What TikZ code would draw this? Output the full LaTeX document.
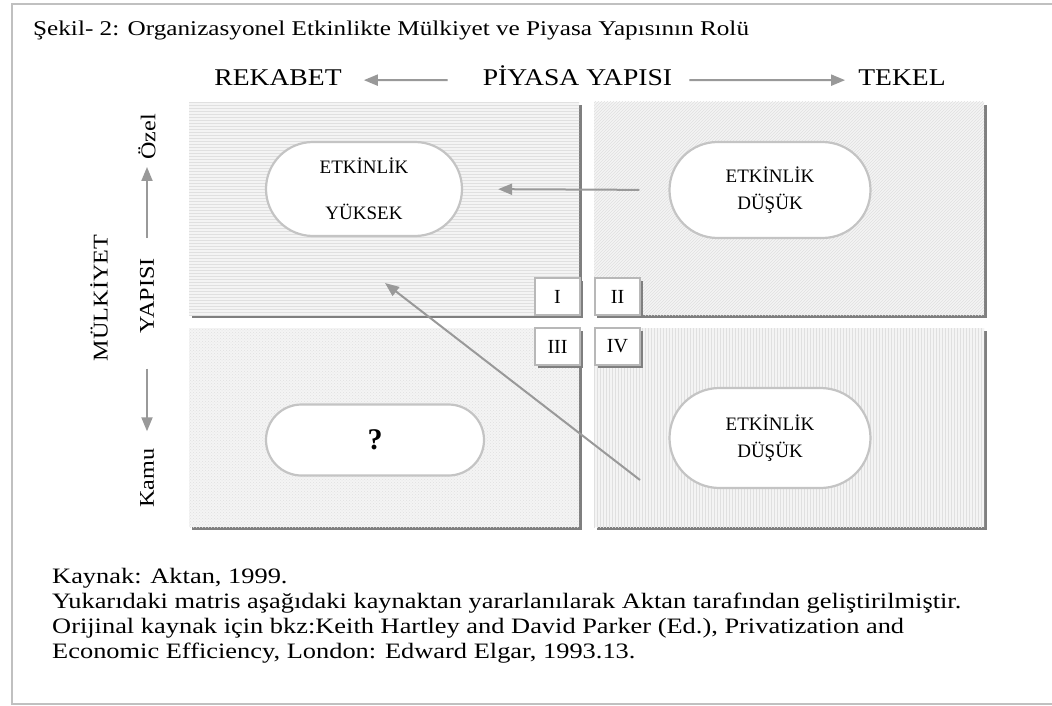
\documentclass[tikz,border=0pt]{standalone}
\usepackage{fontspec}
\setmainfont{Liberation Serif}
\newfontfamily\topfont[FakeStretch=1.15]{Liberation Serif}
\newfontfamily\titlefont[FakeStretch=1.2]{Liberation Serif}
\usetikzlibrary{arrows.meta,patterns,shadows}
\definecolor{arr}{HTML}{999999}
\definecolor{stadline}{HTML}{C4C4C4}
\definecolor{shad}{HTML}{7F7F7F}
\definecolor{boxline}{HTML}{B8B8B8}
\definecolor{frame}{HTML}{C0C0C0}
\begin{document}
\begin{tikzpicture}[x=1pt,y=-1pt,
  quad/.style={minimum width=390pt, inner sep=0pt, draw=none,
    drop shadow={shadow xshift=3pt, shadow yshift=-3pt, fill=shad, opacity=1},
    preaction={fill=gray!9}, pattern color=gray!24},
  stad/.style={draw=stadline, line width=2.2pt, fill=white, inner sep=0pt,
    align=center, font=\fontsize{19}{27}\selectfont},
  roman/.style={draw=boxline, line width=1.6pt, fill=white, minimum width=45pt,
    minimum height=37pt, inner sep=0pt, font=\fontsize{20}{22}\selectfont,
    drop shadow={shadow xshift=3pt, shadow yshift=-2.5pt, fill=shad, opacity=1}},
  toplbl/.style={inner sep=0pt, font=\topfont\fontsize{24}{28}\selectfont},
  sidelbl/.style={inner sep=0pt, rotate=90, font=\topfont\fontsize{21}{25}\selectfont},
  foot/.style={inner sep=0pt, anchor=base west, font=\titlefont\fontsize{22}{25}\selectfont},
  garrow/.style={draw=arr, line width=2pt, -{Triangle[length=14pt,width=11pt]}, fill=arr}
]
\useasboundingbox (0,0) rectangle (1052,706);
\fill[white] (0,0) rectangle (1052,706);
\draw[frame, line width=2pt] (12,4) rectangle (1080,704);

% title
\node[inner sep=0pt, anchor=base west, font=\titlefont\fontsize{21}{25}\selectfont] (title) at (33,36)
  {Şekil- 2: Organizasyonel Etkinlikte Mülkiyet ve Piyasa Yapısının Rolü};

% top labels
\node[toplbl, anchor=base] (rek) at (278,86) {REKABET};
\node[toplbl, anchor=base] (piy) at (577.5,86) {PİYASA YAPISI};
\node[toplbl, anchor=base] (tek) at (902,86) {TEKEL};
\draw[garrow, shorten <=35pt, shorten >=22pt] ([yshift=-4pt]piy.west) -- ([yshift=-2pt]rek.east);
\draw[garrow, shorten <=17pt, shorten >=13pt] ([yshift=-4pt]piy.east) -- ([yshift=-2pt]tek.west);

% side labels
\node[sidelbl] (ozel) at (147,137) {Özel};
\node[sidelbl] (yap) at (147,296) {YAPISI};
\node[sidelbl] (kamu) at (147,478) {Kamu};
\node[sidelbl] (mulk) at (99,298) {MÜLKİYET};
\draw[garrow, shorten <=20pt, shorten >=7pt] (yap.east) -- (ozel.west);
\draw[garrow, shorten <=35pt, shorten >=17pt] (yap.west) -- (kamu.east);

% quadrants
\node[quad, minimum height=213pt, pattern=horizontal lines] (q1) at (384,208.5) {};
\node[quad, minimum height=213pt, pattern=north east lines] (q2) at (789,208.5) {};
\node[quad, minimum height=199pt, pattern=crosshatch dots] (q3) at (384,427.5) {};
\node[quad, minimum height=199pt, pattern=vertical lines] (q4) at (789,427.5) {};

% roman boxes
\node[roman] (bI) at (557.5,296.5) {I};
\node[roman] (bII) at (617.5,296.5) {II};
\node[roman] (bIII) at (557.5,346.5) {III};
\node[roman] (bIV) at (617.5,346.5) {IV};

% stadium nodes
\node[stad, minimum width=196pt, minimum height=94pt, rounded corners=47pt,
  font=\fontsize{19}{46}\selectfont] (n1) at (364,189) {ETKİNLİK\\YÜKSEK};
\node[stad, minimum width=201pt, minimum height=96pt, rounded corners=48pt] (n2) at (770,190) {ETKİNLİK\\DÜŞÜK};
\node[stad, minimum width=218pt, minimum height=71pt, rounded corners=35.5pt,
  font=\bfseries\fontsize{30}{34}\selectfont] (n3) at (375,440) {?};
\node[stad, minimum width=201pt, minimum height=100pt, rounded corners=50pt] (n4) at (770,438) {ETKİNLİK\\DÜŞÜK};

% connectors
\draw[garrow, shorten <=29pt, shorten >=35pt] (n2.west) -- (n1.east);
\coordinate (d1) at (640,480);
\coordinate (d2) at (385,283);
\draw[garrow] (d1) -- (d2);

% footer
\node[foot] (f1) at (52,583) {Kaynak: Aktan, 1999.};
\node[foot] (f2) at (52,608) {Yukarıdaki matris aşağıdaki kaynaktan yararlanılarak Aktan tarafından geliştirilmiştir.};
\node[foot] (f3) at (52,633) {Orijinal kaynak için bkz:Keith Hartley and David Parker (Ed.), Privatization and};
\node[foot] (f4) at (52,658) {Economic Efficiency, London: Edward Elgar, 1993.13.};
\end{tikzpicture}
\end{document}
